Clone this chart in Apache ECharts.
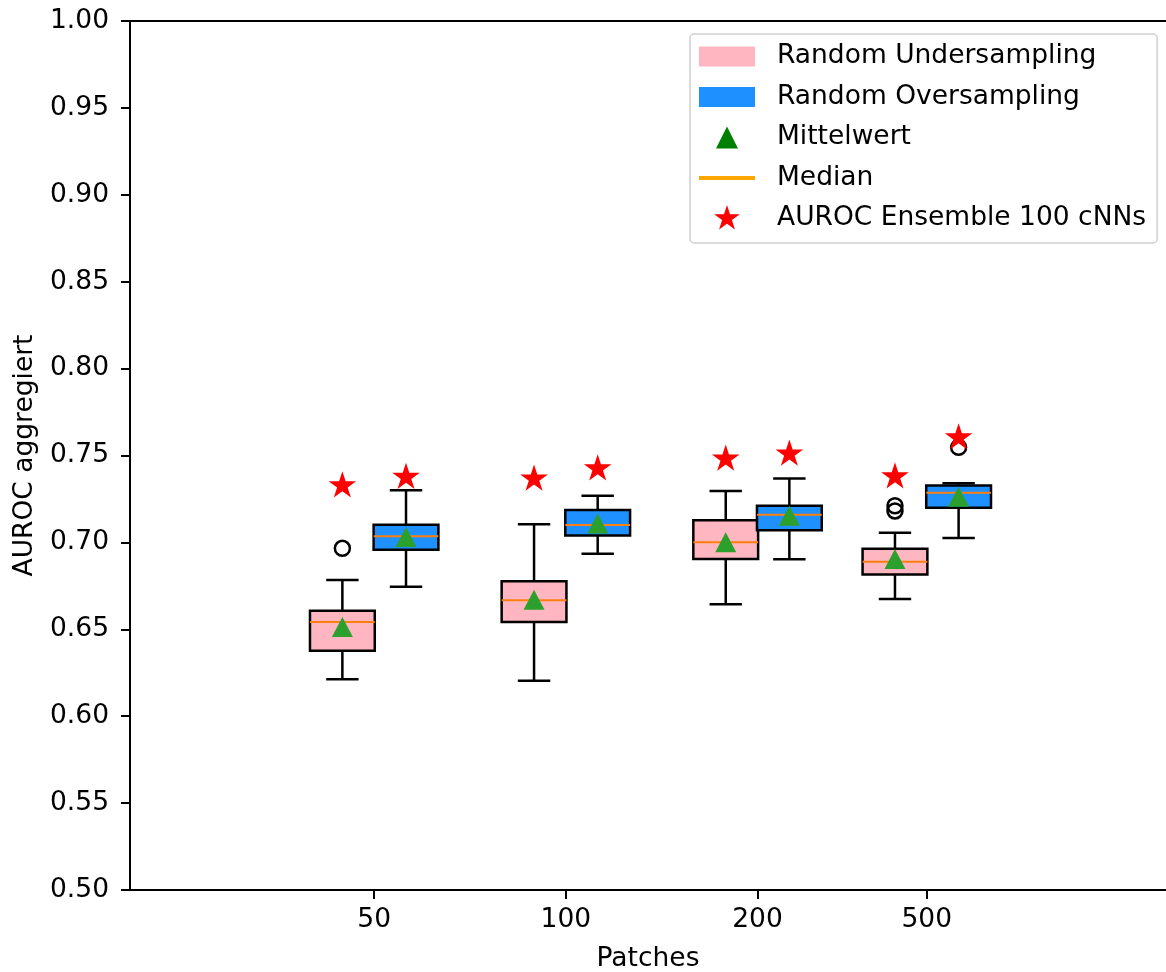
<!DOCTYPE html>
<html>
<head>
<meta charset="utf-8">
<script src="https://cdn.jsdelivr.net/npm/echarts@6/dist/echarts.min.js"></script>
<style>html,body{margin:0;padding:0;background:#fff}#c{width:1166px;height:972px}</style>
</head>
<body>
<div id="c"></div>
<script>
// ---- data ----
const CATEGORIES = ['50', '100', '200', '500'];
const POSITIONS = [1, 2, 3, 3.883];           // x position of each category tick
const Y_TICKS = [0.5, 0.55, 0.6, 0.65, 0.7, 0.75, 0.8, 0.85, 0.9, 0.95, 1.0];
// [lower whisker, Q1, median, Q3, upper whisker]
const UNDER_STATS = [
  [0.6212, 0.6377, 0.6542, 0.6607, 0.6784],
  [0.6204, 0.6542, 0.6667, 0.6776, 0.7104],
  [0.6644, 0.6905, 0.7001, 0.7127, 0.7296],
  [0.6674, 0.6816, 0.6889, 0.6964, 0.7056]
];
const OVER_STATS = [
  [0.6745, 0.6958, 0.7035, 0.7102, 0.7300],
  [0.6935, 0.7039, 0.7100, 0.7186, 0.7269],
  [0.6903, 0.7070, 0.7159, 0.7211, 0.7367],
  [0.7025, 0.7200, 0.7286, 0.7328, 0.7340]
];
const UNDER_MEAN = [0.6513, 0.6670, 0.7001, 0.6904];
const OVER_MEAN = [0.7031, 0.7109, 0.7153, 0.7263];
const UNDER_ENSEMBLE = [0.7326, 0.7365, 0.7480, 0.7378];
const OVER_ENSEMBLE = [0.7375, 0.7424, 0.7509, 0.7602];
const UNDER_OUTLIERS = [[0.6966], [], [], [0.7211, 0.7181]];
const OVER_OUTLIERS = [[], [], [], [0.7547]];

// ---- layout / style constants ----
const OFF = 0.166;      // offset of each box from the tick
const BOX_W = 0.338;    // box width in axis units
const FONT = 'DejaVu Sans';
const FS = 26.5;
const LW = 2.5;

function starPath() {
  const R = 10, r = R * 0.381966;
  let d = 'M0,-10M0,10M';
  for (let i = 0; i < 10; i++) {
    const a = -Math.PI / 2 + i * Math.PI / 5;
    const rad = i % 2 ? r : R;
    d += (i ? 'L' : '') + (rad * Math.cos(a)).toFixed(3) + ',' + (rad * Math.sin(a)).toFixed(3);
  }
  return 'path://' + d + 'Z';
}
const STAR = starPath();

function boxData(stats, sign) {
  return stats.map((s, i) => [POSITIONS[i] + sign * OFF].concat(s));
}
const underBoxes = boxData(UNDER_STATS, -1);
const overBoxes = boxData(OVER_STATS, 1);
const medians = underBoxes.concat(overBoxes).map(d => [d[0], d[3]]);
const means = UNDER_MEAN.map((v, i) => [POSITIONS[i] - OFF, v])
  .concat(OVER_MEAN.map((v, i) => [POSITIONS[i] + OFF, v]));
const ensembles = UNDER_ENSEMBLE.map((v, i) => [POSITIONS[i] - OFF, v])
  .concat(OVER_ENSEMBLE.map((v, i) => [POSITIONS[i] + OFF, v]));
const outliers = [];
UNDER_OUTLIERS.forEach((arr, i) => arr.forEach(v => outliers.push([POSITIONS[i] - OFF, v])));
OVER_OUTLIERS.forEach((arr, i) => arr.forEach(v => outliers.push([POSITIONS[i] + OFF, v])));

function boxRender(fill) {
  return function (params, api) {
    const x = api.value(0), lo = api.value(1), q1 = api.value(2), q3 = api.value(4), hi = api.value(5);
    const hw = BOX_W / 2, cw = BOX_W / 4;
    const a = api.coord([x - hw, q3]), b = api.coord([x + hw, q1]);
    const top = api.coord([x, hi]), bot = api.coord([x, lo]);
    const q3p = api.coord([x, q3]), q1p = api.coord([x, q1]);
    const cl = api.coord([x - cw, hi])[0], cr = api.coord([x + cw, hi])[0];
    const ls = { stroke: '#000', lineWidth: LW };
    return {
      type: 'group', children: [
        { type: 'line', shape: { x1: top[0], y1: top[1], x2: q3p[0], y2: q3p[1] }, style: ls },
        { type: 'line', shape: { x1: bot[0], y1: bot[1], x2: q1p[0], y2: q1p[1] }, style: ls },
        { type: 'line', shape: { x1: cl, y1: top[1], x2: cr, y2: top[1] }, style: ls },
        { type: 'line', shape: { x1: cl, y1: bot[1], x2: cr, y2: bot[1] }, style: ls },
        { type: 'rect', shape: { x: a[0], y: a[1], width: b[0] - a[0], height: b[1] - a[1] },
          style: { fill: fill, stroke: '#000', lineWidth: LW } }
      ]
    };
  };
}
function medianRender(params, api) {
  const x = api.value(0), m = api.value(1);
  const p1 = api.coord([x - BOX_W / 2, m]), p2 = api.coord([x + BOX_W / 2, m]);
  return { type: 'line', shape: { x1: p1[0], y1: p1[1], x2: p2[0], y2: p2[1] },
    style: { stroke: '#ff7f0e', lineWidth: 2 } };
}

const chart = echarts.init(document.getElementById('c'), null, { renderer: 'canvas' });
const axisLineStyle = { color: '#000', width: 2 };
chart.setOption({
  animation: false,
  backgroundColor: '#fff',
  textStyle: { fontFamily: FONT },
  grid: { left: 130, right: 0, top: 21, bottom: 82, containLabel: false, outerBoundsMode: 'none' },
  xAxis: [{
    type: 'value', min: -0.274, max: 5.131,
    name: 'Patches', nameLocation: 'middle', nameGap: 56,
    nameTextStyle: { fontFamily: FONT, fontSize: FS, color: '#000' },
    axisLine: { show: true, onZero: false, lineStyle: axisLineStyle },
    axisTick: { show: true, length: 9, lineStyle: axisLineStyle, customValues: POSITIONS },
    axisLabel: {
      customValues: POSITIONS, margin: 17, fontFamily: FONT, fontSize: FS, color: '#000',
      formatter: function (v) {
        const i = POSITIONS.findIndex(p => Math.abs(p - v) < 1e-6);
        return i >= 0 ? CATEGORIES[i] : '';
      }
    },
    splitLine: { show: false }
  }, {
    type: 'value', position: 'top', min: -0.274, max: 5.131,
    axisLine: { show: true, onZero: false, lineStyle: axisLineStyle },
    axisTick: { show: false }, axisLabel: { show: false }, splitLine: { show: false }
  }],
  yAxis: {
    type: 'value', min: Y_TICKS[0], max: Y_TICKS[Y_TICKS.length - 1], interval: 0.05,
    name: 'AUROC aggregiert', nameLocation: 'middle', nameGap: 91,
    nameTextStyle: { fontFamily: FONT, fontSize: FS, color: '#000' },
    axisLine: { show: true, onZero: false, lineStyle: axisLineStyle },
    axisTick: { show: true, length: 9, lineStyle: axisLineStyle },
    axisLabel: { margin: 21, fontFamily: FONT, fontSize: FS, color: '#000', formatter: v => v.toFixed(2) },
    splitLine: { show: false }
  },
  legend: {
    orient: 'vertical', left: 690, top: 34,
    itemWidth: 56, itemHeight: 27, itemGap: 13.5,
    padding: [9, 11, 11, 9],
    backgroundColor: '#fff', borderColor: '#d0d0d0', borderWidth: 1.5, borderRadius: 4,
    selectedMode: false,
    textStyle: { fontFamily: FONT, fontSize: FS, color: '#000', lineHeight: 27, padding: [0, 0, 0, 17] },
    data: [
      { name: 'Random Undersampling', icon: 'path://M0,0M56,27M0,3.5h56v20h-56z',
        itemStyle: { color: '#FFB6C1', borderWidth: 0, opacity: 1 } },
      { name: 'Random Oversampling', icon: 'path://M0,0M56,27M0,3.5h56v20h-56z',
        itemStyle: { color: '#1E90FF', borderWidth: 0, opacity: 1 } },
      { name: 'Mittelwert', icon: 'path://M0,0M27,27M13.5,2.5L24.5,24.5L2.5,24.5Z',
        itemStyle: { color: '#008000', borderWidth: 0, opacity: 1 } },
      { name: 'Median', icon: 'path://M0,0M56,27M0,11.5h56v4h-56z',
        itemStyle: { color: '#FFA500', borderWidth: 0, opacity: 1 } },
      { name: 'AUROC Ensemble 100 cNNs', icon: STAR,
        itemStyle: { color: '#FF0000', borderWidth: 0, opacity: 1 } }
    ]
  },
  series: [
    { name: 'Random Undersampling', type: 'custom', data: underBoxes, renderItem: boxRender('#FFB6C1'),
      encode: { x: 0, y: [1, 2, 3, 4, 5] }, itemStyle: { color: '#FFB6C1' }, silent: true },
    { name: 'Random Oversampling', type: 'custom', data: overBoxes, renderItem: boxRender('#1E90FF'),
      encode: { x: 0, y: [1, 2, 3, 4, 5] }, itemStyle: { color: '#1E90FF' }, silent: true },
    { name: 'Median', type: 'custom', data: medians, renderItem: medianRender,
      encode: { x: 0, y: 1 }, itemStyle: { color: '#FFA500' }, silent: true },
    { name: 'Ausreißer', type: 'scatter', data: outliers, symbol: 'circle', symbolSize: 15,
      itemStyle: { color: 'rgba(0,0,0,0)', borderColor: '#000', borderWidth: 2.5, opacity: 1 }, silent: true },
    { name: 'Mittelwert', type: 'scatter', data: means, symbol: 'triangle', symbolSize: [21, 20],
      itemStyle: { color: '#2ca02c', opacity: 1 }, silent: true },
    { name: 'AUROC Ensemble 100 cNNs', type: 'scatter', data: ensembles, symbol: STAR, symbolSize: 29,
      symbolKeepAspect: true, itemStyle: { color: '#FF0000', opacity: 1 }, silent: true }
  ]
});
</script>
</body>
</html>
